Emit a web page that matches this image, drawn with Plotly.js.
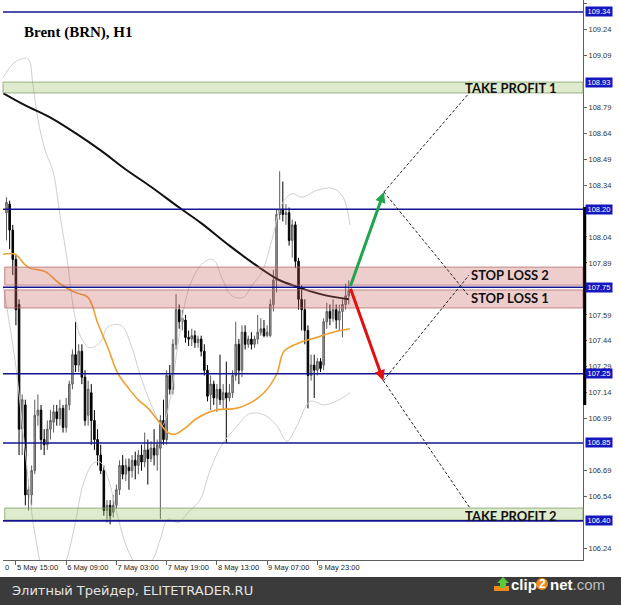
<!DOCTYPE html>
<html><head><meta charset="utf-8">
<script src="https://cdn.plot.ly/plotly-3.0.1.min.js"></script>
<style>html,body{margin:0;padding:0;background:#fff;overflow:hidden}#chart{width:621px;height:605px}</style>
</head><body><div id="chart"></div>
<script>
// ---------- DATA ----------
const barIndex = [];
for (let i = 0; i < 110; i++) barIndex.push(i);

const openP = [108.18,108.23,108.08,107.91,107.65,106.93,107.07,106.55,106.55,106.69,
107.01,107.04,106.87,106.84,106.93,106.97,107.03,106.99,107.05,106.94,
107.07,107.19,107.36,107.30,107.38,107.23,107.01,107.14,106.98,106.87,
106.78,106.69,106.46,106.49,106.45,106.49,106.58,106.72,106.67,106.71,
106.69,106.75,106.72,106.78,106.74,106.81,106.76,106.82,106.78,106.82,
106.98,106.87,107.24,107.16,107.42,107.62,107.55,107.56,107.46,107.45,
107.47,107.43,107.45,107.38,107.27,107.13,107.19,107.11,107.16,107.10,
107.14,107.11,107.14,107.24,107.42,107.27,107.49,107.42,107.45,107.42,
107.45,107.49,107.51,107.47,107.47,107.65,107.79,108.17,108.20,108.17,
108.18,108.02,108.11,107.90,107.68,107.62,107.50,107.24,107.30,107.27,
107.32,107.30,107.55,107.61,107.57,107.62,107.56,107.61,107.65,107.70];
const highP = [108.27,108.25,108.11,107.94,107.68,107.13,107.10,106.64,106.72,107.10,
107.13,107.07,106.93,106.98,107.04,107.07,107.07,107.10,107.07,107.11,
107.21,107.39,107.55,107.42,107.42,107.27,107.21,107.19,107.04,106.93,
106.84,106.72,106.52,106.52,106.55,106.61,106.75,106.78,106.76,106.76,
106.78,106.80,106.81,106.84,106.91,106.87,106.86,106.93,106.87,107.01,
107.10,107.27,107.30,107.45,107.71,107.65,107.62,107.59,107.50,107.51,
107.50,107.47,107.47,107.42,107.30,107.24,107.21,107.19,107.36,107.19,
107.32,107.19,107.27,107.55,107.45,107.53,107.53,107.47,107.49,107.47,
107.59,107.57,107.56,107.53,107.68,107.85,108.20,108.42,108.36,108.23,
108.21,108.14,108.13,107.92,107.76,107.68,107.53,107.36,107.36,107.34,
107.34,107.57,107.66,107.65,107.68,107.65,107.65,107.68,107.77,107.79];
const lowP = [108.02,107.97,107.82,107.53,106.78,106.78,106.49,106.46,106.49,106.67,
106.95,106.81,106.78,106.81,106.87,106.91,106.95,106.95,106.91,106.91,
107.04,107.16,107.26,107.26,107.19,106.95,106.95,106.84,106.81,106.72,
106.67,106.43,106.39,106.38,106.42,106.47,106.55,106.64,106.63,106.58,
106.65,106.64,106.67,106.69,106.71,106.61,106.74,106.72,106.69,106.41,
106.84,106.84,107.13,107.13,107.39,107.51,107.50,107.43,107.41,107.41,
107.40,107.40,107.35,107.24,107.09,107.04,107.07,107.03,107.07,107.04,
106.85,107.09,107.11,107.21,107.19,107.23,107.39,107.40,107.39,107.40,
107.42,107.47,107.46,107.46,107.46,107.61,107.72,108.14,108.13,108.11,
107.99,107.92,107.86,107.62,107.50,107.42,107.05,107.21,107.11,107.24,
107.26,107.27,107.51,107.53,107.55,107.51,107.50,107.46,107.62,107.65];
const closeP = [108.24,108.08,107.91,107.62,106.93,107.10,106.55,106.58,106.69,107.01,
107.04,106.87,106.84,106.93,106.98,107.03,106.99,107.05,106.94,107.07,
107.19,107.36,107.30,107.38,107.23,106.98,107.16,106.98,106.87,106.78,
106.69,106.46,106.49,106.43,106.49,106.58,106.72,106.67,106.72,106.69,
106.75,106.72,106.78,106.74,106.81,106.76,106.82,106.78,106.84,106.98,
106.87,107.24,107.16,107.42,107.62,107.55,107.57,107.46,107.45,107.47,
107.43,107.45,107.38,107.27,107.12,107.19,107.11,107.16,107.10,107.14,
107.11,107.14,107.24,107.42,107.27,107.49,107.42,107.45,107.42,107.45,
107.49,107.51,107.47,107.49,107.65,107.79,108.17,108.20,108.17,108.18,
108.02,108.11,107.90,107.68,107.62,107.50,107.24,107.30,107.27,107.32,
107.28,107.55,107.61,107.57,107.62,107.56,107.61,107.65,107.70,107.73];

// slow moving average (black)
const maSlowX = [-1,6,14,22,30,38,46,55,62,71,80,87,93,100,109];
const maSlowY = [108.87,108.80,108.73,108.64,108.54,108.43,108.33,108.21,108.12,107.99,107.87,107.79,107.75,107.71,107.68];
// fast moving average (orange)
const maFastX = [-1.1,2.7,5.9,7.5,12.3,17.0,21.8,26.0,29.1,32.3,35.5,38.7,41.9,45.1,48.2,51.4,53.6,57.2,60.4,66.7,73.1,77.5,82.0,86.1,88.4,93.5,98.9,104.0,109.4];
const maFastY = [107.94,107.94,107.88,107.86,107.84,107.77,107.72,107.69,107.54,107.40,107.25,107.17,107.10,107.05,106.98,106.91,106.90,106.94,106.99,107.04,107.05,107.08,107.14,107.25,107.38,107.43,107.46,107.49,107.51];
// Bollinger bands (light grey)
const bbUpX = [-1.1,2.7,6.8,8.4,10.0,12.3,14.8,17.0,19.3,21.8,24.0,26.6,29.8,32.3,36.5,39.6,42.8,47.3,49.5,52.1,54.6,58.4,62.6,65.8,68.9,71.8,75.3,78.2,81.4,84.5,87.7,90.9,94.1,98.9,104.0,107.2,109.4];
const bbUpY = [108.96,109.05,109.07,108.92,108.72,108.54,108.42,108.17,107.91,107.58,107.45,107.40,107.43,107.52,107.53,107.42,107.23,107.02,106.95,107.10,107.42,107.76,107.89,107.91,107.79,107.70,107.69,107.76,107.84,108.02,108.23,108.29,108.27,108.31,108.32,108.27,108.11];
const bbLoX = [-1.1,2.7,5.9,9.1,12.3,15.4,18.6,21.8,24.4,27.5,29.8,32.3,35.5,38.7,42.5,46.3,48.9,51.4,54.6,58.4,61.6,64.8,68.6,73.1,77.5,82.3,86.1,89.3,92.5,96.7,101.1,104.9,109.4];
const bbLoY = [107.76,107.33,106.81,106.32,106.09,106.06,106.15,106.38,106.61,106.73,106.74,106.65,106.42,106.23,106.13,106.17,106.29,106.41,106.39,106.46,106.52,106.69,106.84,106.94,107.02,107.01,106.95,106.86,106.95,107.09,107.07,107.09,107.14];

// horizontal levels
const levels = [109.34, 108.20, 107.75, 107.25, 106.85, 106.40];
// zones
const zoneNames = ['TAKE PROFIT 1','STOP LOSS 2','STOP LOSS 1','TAKE PROFIT 2'];
const zoneLow  = [108.872, 107.762, 107.630, 106.405];
const zoneHigh = [108.935, 107.866, 107.734, 106.474];
const zoneKind = ['tp','sl','sl','tp'];
const zoneLabelX = [145.3, 147.4, 147.4, 145.3];
const zoneLabelY = [108.90, 107.82, 107.69, 106.43];
// scenario arrows
const entry = {x:109.4, y:107.75};
const upTarget = {x:120.2, y:108.30};
const downTarget = {x:120.0, y:107.21};
const dashFromUp = [[147.6,108.877],[147.0,107.705]];
const dashFromDown = [[147.3,107.820],[147.6,106.474]];

// axis labels
const yTickVals = [109.39,109.24,109.09,108.79,108.64,108.49,108.34,108.04,107.89,107.59,107.44,107.29,107.14,106.99,106.69,106.54,106.24];
const yTickText = yTickVals.map(v => v.toFixed(2));
const yMarked = [109.34,108.93,108.20,107.75,107.25,106.85,106.40];
const xTickVals = [3,19,35,51,67,83,99];
const xTickText = ['5 May 15:00','6 May 09:00','7 May 03:00','7 May 19:00','8 May 13:00','9 May 07:00','9 May 23:00'];
const rangeBar = [107.069, 108.213];

// ---------- LAYOUT helpers ----------
const W = 621, H = 605, ML = 3, MR = 38, MT = 0, MB = 45;
const PW = W - ML - MR, PH = H - MT - MB;
const px = v => (v - ML) / PW;
const py = v => (H - MB - v) / PH;

const traces = [
  {type:'scatter', mode:'lines', x:bbUpX, y:bbUpY, line:{color:'#cfcfcf', width:1, shape:'spline'}, hoverinfo:'skip'},
  {type:'scatter', mode:'lines', x:bbLoX, y:bbLoY, line:{color:'#cfcfcf', width:1, shape:'spline'}, hoverinfo:'skip'},
  {type:'candlestick', x:barIndex, open:openP, high:highP, low:lowP, close:closeP,
    increasing:{line:{color:'#5c5c5c', width:1}, fillcolor:'#a6a6a6'},
    decreasing:{line:{color:'#000000', width:1}, fillcolor:'#000000'},
    whiskerwidth:0, hoverinfo:'skip'},
  {type:'scatter', mode:'lines', x:maFastX, y:maFastY, line:{color:'#f0a030', width:1.6, shape:'spline'}, hoverinfo:'skip'},
  {type:'scatter', mode:'lines', x:maSlowX, y:maSlowY, line:{color:'#111111', width:2, shape:'spline'}, hoverinfo:'skip'}
];

const shapes = [];
zoneLow.forEach((lo, k) => {
  const tp = zoneKind[k] === 'tp';
  shapes.push({type:'rect', xref:'paper', yref:'y', x0: tp && k===0 ? 0 : 0.003, x1:1, y0:lo, y1:zoneHigh[k],
    fillcolor: tp ? 'rgba(150,190,90,0.30)' : 'rgba(200,90,90,0.30)',
    line:{color: tp ? 'rgba(130,160,110,0.8)' : 'rgba(180,110,110,0.8)', width:1}, layer:'above'});
});
levels.forEach(v => shapes.push({type:'line', xref:'paper', yref:'y', x0:0, x1:1, y0:v, y1:v,
  line:{color:'#141490', width:1.6}, layer:'above'}));
[[upTarget, dashFromUp], [downTarget, dashFromDown]].forEach(([from, list]) => {
  list.forEach(p => shapes.push({type:'line', xref:'x', yref:'y', x0:from.x, y0:from.y, x1:p[0], y1:p[1],
    line:{color:'#222', width:1, dash:'3px,2px'}, layer:'above'}));
});
shapes.push({type:'line', xref:'paper', yref:'y', x0:1.003, x1:1.003, y0:rangeBar[0], y1:rangeBar[1], line:{color:'#000', width:3}, layer:'above'});
// footer band
shapes.push({type:'rect', xref:'paper', yref:'paper', x0:px(0), x1:px(W), y0:py(H), y1:py(577), fillcolor:'#3b3b3b', line:{width:0}, layer:'above'});
// clip2net icon
shapes.push({type:'path', xref:'paper', yref:'paper', path:`M ${px(494)} ${py(586)} L ${px(509)} ${py(586)} L ${px(509)} ${py(591)} L ${px(494)} ${py(591)} Z`, fillcolor:'#f08a1c', line:{width:0}, layer:'above'});
shapes.push({type:'path', xref:'paper', yref:'paper', path:`M ${px(503)} ${py(577)} L ${px(509)} ${py(583)} L ${px(506)} ${py(583)} L ${px(506)} ${py(588)} L ${px(500)} ${py(588)} L ${px(500)} ${py(583)} L ${px(497)} ${py(583)} Z`, fillcolor:'#5cc83c', line:{width:0}, layer:'above'});
shapes.push({type:'circle', xref:'paper', yref:'paper', x0:px(536), x1:px(548), y0:py(590), y1:py(578), fillcolor:'#f08a1c', line:{width:0}, layer:'above'});

const annotations = [];
yMarked.forEach(v => annotations.push({xref:'paper', yref:'y', x:1, y:v, xanchor:'left', yanchor:'middle', xshift:2,
  text:v.toFixed(2), showarrow:false, bgcolor:'#1616c0', width:26, height:9, align:'center', borderpad:0,
  font:{family:'Liberation Sans, Arial, sans-serif', size:7.5, color:'#ffffff'}}));
zoneNames.forEach((n, k) => annotations.push({xref:'x', yref:'y', x:zoneLabelX[k], y:zoneLabelY[k], xanchor:'left', yanchor:'middle',
  text:n, showarrow:false, font:{family:'Lato, sans-serif', size:13, color:'#111', weight:700}}));
annotations.push({xref:'x', yref:'y', x:upTarget.x, y:upTarget.y, ax:entry.x, ay:entry.y, axref:'x', ayref:'y',
  showarrow:true, arrowhead:2, arrowsize:0.7, arrowwidth:3, arrowcolor:'#1fa64c', standoff:0, text:''});
annotations.push({xref:'x', yref:'y', x:downTarget.x, y:downTarget.y, ax:entry.x, ay:entry.y, axref:'x', ayref:'y',
  showarrow:true, arrowhead:2, arrowsize:0.7, arrowwidth:3, arrowcolor:'#e01010', standoff:0, text:''});
annotations.push({xref:'paper', yref:'paper', x:px(22), y:py(32), xanchor:'left', yanchor:'middle', showarrow:false,
  text:'<b>Brent (BRN), H1</b>', font:{family:'Liberation Serif, Times New Roman, serif', size:15, color:'#000'}});
annotations.push({xref:'paper', yref:'paper', x:px(3), y:py(567), xanchor:'left', yanchor:'middle', showarrow:false,
  text:'0', font:{family:'Liberation Sans, Arial, sans-serif', size:7.5, color:'#222'}});
annotations.push({xref:'paper', yref:'paper', x:px(10), y:py(590), xanchor:'left', yanchor:'middle', showarrow:false,
  text:'Элитный Трейдер, ELITETRADER.RU', font:{family:'DejaVu Sans, sans-serif', size:13, color:'#e4e4e4'}});
annotations.push({xref:'paper', yref:'paper', x:px(509), y:py(584), xanchor:'left', yanchor:'middle', showarrow:false,
  text:'<b>clip</b>', font:{family:'Liberation Sans, Arial, sans-serif', size:15, color:'#ffffff'}});
annotations.push({xref:'paper', yref:'paper', x:px(542), y:py(584), xanchor:'center', yanchor:'middle', showarrow:false,
  text:'<b>2</b>', font:{family:'Liberation Sans, Arial, sans-serif', size:12, color:'#ffffff'}});
annotations.push({xref:'paper', yref:'paper', x:px(548), y:py(584), xanchor:'left', yanchor:'middle', showarrow:false,
  text:'<b>net</b><span style="color:#bdbdbd">.com</span>', font:{family:'Liberation Sans, Arial, sans-serif', size:15, color:'#ffffff'}});

const layout = {
  width:W, height:H, margin:{l:ML, r:MR, t:MT, b:MB, pad:0},
  paper_bgcolor:'#ffffff', plot_bgcolor:'#ffffff', showlegend:false,
  xaxis:{type:'linear', range:[-1.115, 183.6], rangeslider:{visible:false}, showgrid:false, zeroline:false,
    showline:true, linecolor:'#606060', linewidth:1, ticks:'outside', ticklen:4, tickcolor:'#606060',
    tickvals:xTickVals, ticktext:xTickText, ticklabelposition:'outside right', tickangle:0,
    tickfont:{family:'Liberation Sans, Arial, sans-serif', size:7.5, color:'#222'}, fixedrange:true},
  yaxis:{side:'right', range:[106.174, 109.409], showgrid:false, zeroline:false,
    showline:true, linecolor:'#606060', linewidth:1, ticks:'outside', ticklen:3, tickcolor:'#606060',
    tickvals:yTickVals, ticktext:yTickText,
    tickfont:{family:'Liberation Sans, Arial, sans-serif', size:7.5, color:'#333'}, fixedrange:true},
  shapes:shapes, annotations:annotations
};
Plotly.newPlot('chart', traces, layout, {staticPlot:true, displayModeBar:false});
</script></body></html>
